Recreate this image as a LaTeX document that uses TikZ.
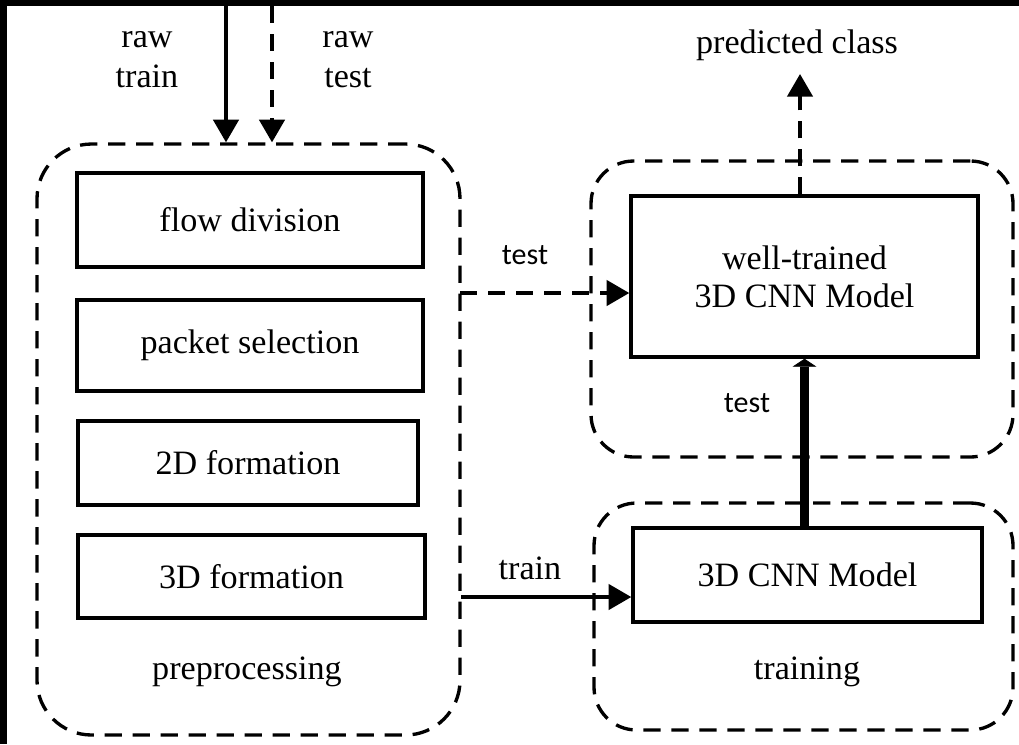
\documentclass[tikz,border=0pt]{standalone}
\usepackage{fontspec}
\setmainfont{Liberation Serif}
\newfontfamily\labelsans{Carlito}
\usetikzlibrary{arrows.meta}
\usetikzlibrary{fit}

\tikzset{
  box/.style={draw, line width=2.6pt, inner sep=0pt, align=center,
    font=\fontsize{25.6}{28.5}\selectfont},
  group/.style={draw, line width=2.5pt, dash pattern={on 13pt off 8pt},
    rounded corners=#1, inner sep=0pt},
  txt/.style={inner sep=0pt, align=center, font=\fontsize{25.6}{30}\selectfont},
  sanstxt/.style={inner sep=0pt, font=\labelsans\fontsize{22.5}{27}\selectfont},
  flow/.style={line width=2.6pt, -{Triangle[length=17pt,width=19pt]}},
  dashflow/.style={flow, dash pattern={on 13pt off 8pt}},
  bigflow/.style={line width=7pt, -{Triangle[length=6pt,width=18pt,line width=0.5pt]}},
}

\begin{document}
\begin{tikzpicture}[x=0.75pt,y=0.75pt,yscale=-1,xscale=1]
%set diagram left start at 0, and has height of 744
\useasboundingbox (0,0) rectangle (1019,744);
\fill[black] (0,0) rectangle (1019,744);
\fill[white] (7,6) rectangle (1019,744);

%Shape: Rounded Rect (preprocessing)
\node[group=41pt, fit={(37,144) (460,735)}] (prep) {};
%Shape: Rounded Rect (testing)
\node[group=32pt, fit={(591,161) (1013,457)}] (testgrp) {};
%Shape: Rounded Rect (training)
\node[group=32pt, fit={(594,503) (1013,730)}] (traingrp) {};

%Shape: Rectangle
\node[box, minimum width=259.5pt, minimum height=70.5pt] (flowdiv) at (250,220) {flow division};
%Shape: Rectangle
\node[box, minimum width=259.5pt, minimum height=68.25pt] (pktsel) at (250,345.5) {packet selection};
%Shape: Rectangle
\node[box, minimum width=255pt, minimum height=63pt] (form2d) at (248,463) {2D formation};
%Shape: Rectangle
\node[box, minimum width=260.25pt, minimum height=62.25pt] (form3d) at (251.5,576.5) {3D formation};
%Shape: Rectangle
\node[box, minimum width=260.25pt, minimum height=120.75pt] (welltrained) at (804.5,276.5) {well-trained\\3D CNN Model};
%Shape: Rectangle
\node[box, minimum width=261.75pt, minimum height=70.5pt] (cnn) at (807.5,575) {3D CNN Model};

% Text Node
\node[txt] (rawtrain) at (147,60) {raw\\train};
% Text Node
\node[txt] (rawtest) at (348,60) {raw\\test};
% Text Node
\node[txt] (predicted) at (797,45) {predicted class};
% Text Node
\node[txt] (preplbl) at (247,672) {preprocessing};
% Text Node
\node[txt] (trainlbl) at (807,672) {training};
% Text Node
\node[sanstxt] (testup) at (525,255) {test};
% Text Node
\node[sanstxt] (testdown) at (747,403) {test};
% Text Node
\node[txt] (trainarr) at (530,568) {train};

%Straight Lines
\coordinate (rawtrainin) at (226,6);
\coordinate (rawtestin) at (272,6);
\coordinate (testout) at (460,293);
\coordinate (trainout) at (461,597);
\coordinate (predtip) at (800,74);
\draw[flow] (rawtrainin) -- (rawtrainin |- prep.north);
\draw[dashflow] (rawtestin) -- (rawtestin |- prep.north);
\draw[dashflow] (testout) -- (testout -| welltrained.west);
\draw[flow] (trainout) -- (trainout -| cnn.west);
\draw[bigflow] (welltrained.south |- cnn.north) -- (welltrained.south);
\draw[dashflow] (welltrained.north -| predtip) -- (predtip);

\end{tikzpicture}
\end{document}
